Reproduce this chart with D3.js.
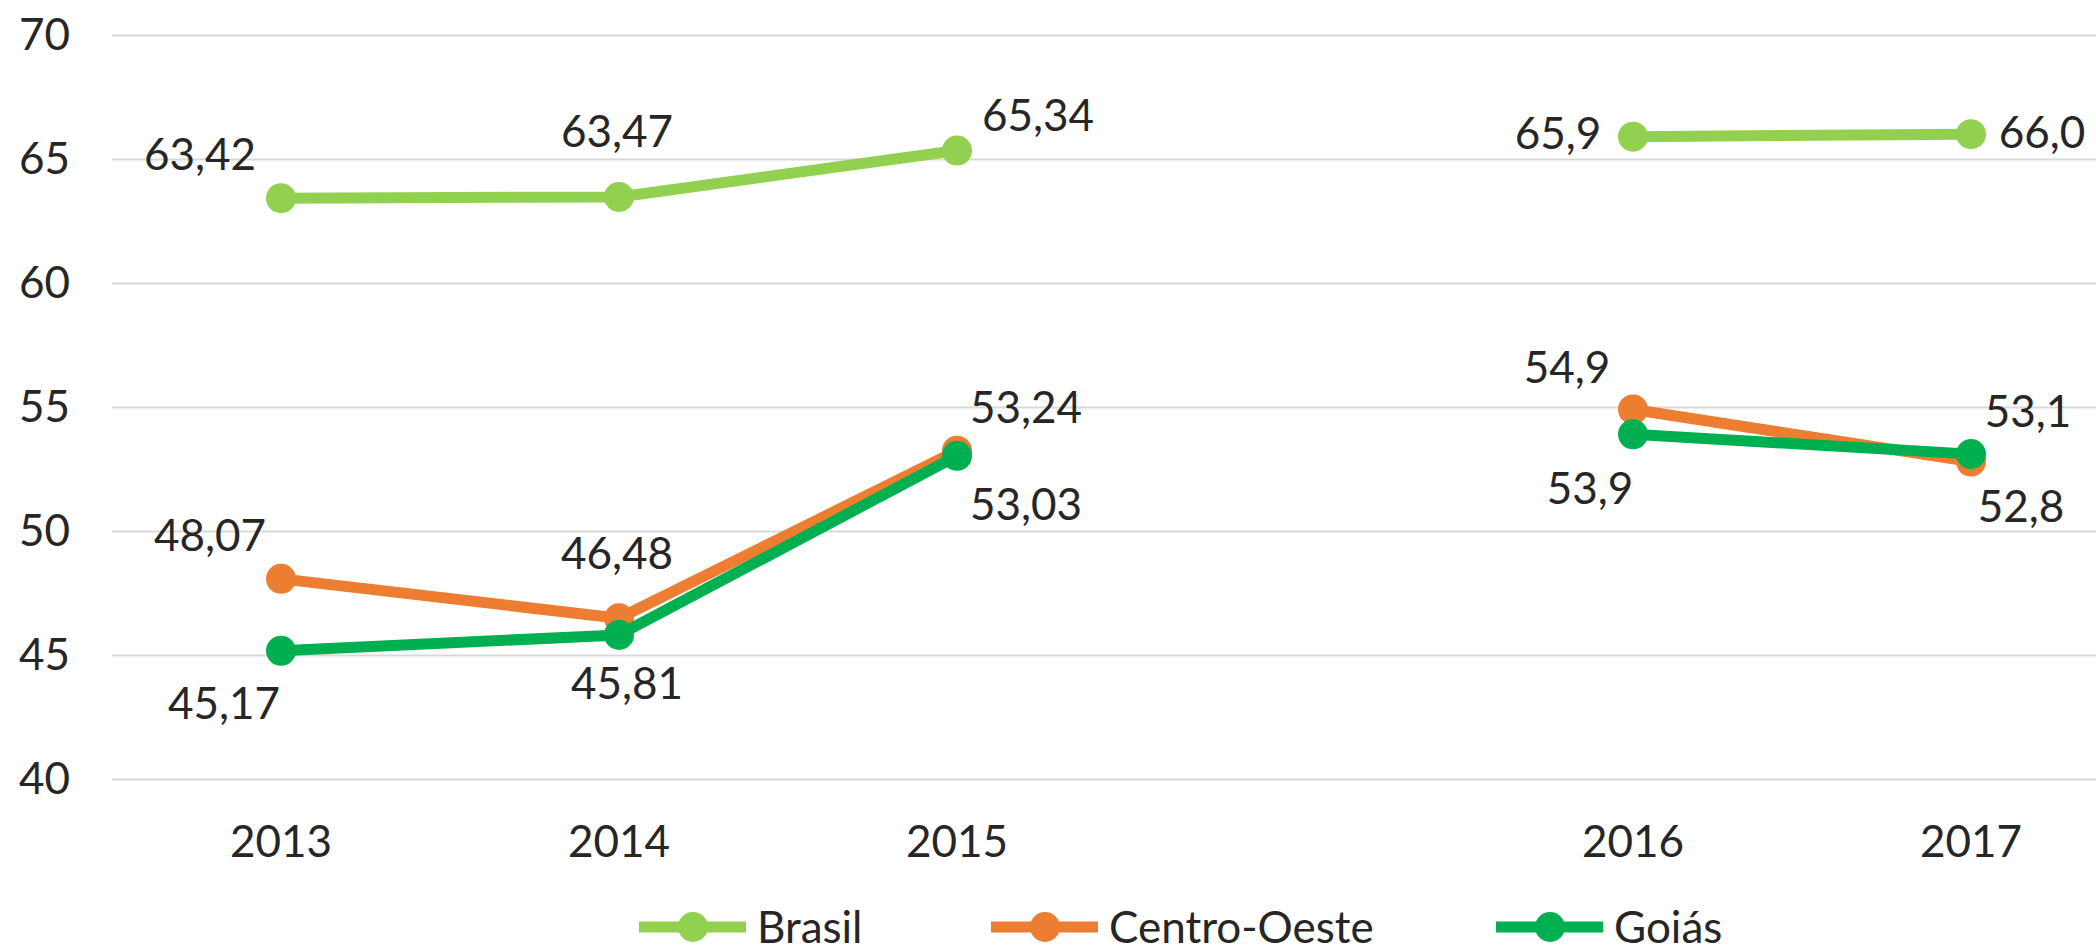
<!DOCTYPE html>
<html>
<head>
<meta charset="utf-8">
<script src="https://cdn.jsdelivr.net/npm/d3@7"></script>
<style>
  body { margin: 0; background: #fff; }
  svg { display: block; font-family: Lato, "Open Sans", sans-serif; }
</style>
</head>
<body>
<script>
// categories (the blank one is the gap between 2015 and 2016)
var years = ["2013", "2014", "2015", "", "2016", "2017"];
var decimals = [2, 2, 2, null, 1, 1];

var brasil = [63.42, 63.47, 65.34, null, 65.9, 66.0];
var centroOeste = [48.07, 46.48, 53.24, null, 54.9, 52.8];
var goias = [45.17, 45.81, 53.03, null, 53.9, 53.1];

var yTicks = [40, 45, 50, 55, 60, 65, 70];

var seriesNames = ["Brasil", "Centro-Oeste", "Goiás"];
var seriesColors = ["#92D050", "#ED7D31", "#00B050"];

// where each data label sits relative to its point (centre of text)
var labelOffsets = [
  [[-81, -44], [-2, -66], [81, -35], null, [-75, -4], [71, -2]],
  [[-71, -44], [-2, -65], [69, -43], null, [-66, -42], [50, 45]],
  [[-57, 52], [8, 48], [69, 48], null, [-43, 54], [57, -43]]
];

var W = 2096, H = 952;
var plotLeft = 112, step = 338;
var plotTop = 35, plotBottom = 779;

var svg = d3.select("body").append("svg")
  .attr("width", W)
  .attr("height", H);

var x = d3.scaleBand()
  .domain(years)
  .range([plotLeft, plotLeft + step * years.length])
  .padding(0);

var y = d3.scaleLinear()
  .domain([40, 70])
  .range([plotBottom, plotTop]);

function cx(i) { return x(years[i]) + x.bandwidth() / 2; }

// gridlines + y labels
var yAxis = svg.append("g")
  .attr("transform", "translate(" + plotLeft + ",0)")
  .call(d3.axisLeft(y)
    .tickValues(yTicks)
    .tickSize(-(step * years.length))
    .tickPadding(42)
    .tickFormat(d3.format("d")));
yAxis.select(".domain").remove();
yAxis.selectAll(".tick line")
  .attr("stroke", "#D9D9D9")
  .attr("stroke-width", 2);
yAxis.selectAll(".tick text")
  .attr("fill", "#262626")
  .style("font-size", "44px")
  .style("font-family", "Lato, 'Open Sans', sans-serif");

// x labels
var xAxis = svg.append("g")
  .attr("transform", "translate(0," + plotBottom + ")")
  .call(d3.axisBottom(x).tickSize(0).tickPadding(47));
xAxis.select(".domain").remove();
xAxis.selectAll(".tick text")
  .attr("fill", "#262626")
  .style("font-size", "44px")
  .style("font-family", "Lato, 'Open Sans', sans-serif");

var allSeries = [brasil, centroOeste, goias];

var line = d3.line()
  .defined(function (d) { return d != null; })
  .x(function (d, i) { return cx(i); })
  .y(function (d) { return y(d); });

allSeries.forEach(function (vals, s) {
  var g = svg.append("g");
  g.append("path")
    .datum(vals)
    .attr("d", line)
    .attr("fill", "none")
    .attr("stroke", seriesColors[s])
    .attr("stroke-width", 11)
    .attr("stroke-linejoin", "round");

  g.selectAll("circle")
    .data(vals.map(function (v, i) { return { v: v, i: i }; })
      .filter(function (d) { return d.v != null; }))
    .enter()
    .append("circle")
    .attr("cx", function (d) { return cx(d.i); })
    .attr("cy", function (d) { return y(d.v); })
    .attr("r", 15)
    .attr("fill", seriesColors[s]);
});

// data labels, drawn last so they sit above the lines
allSeries.forEach(function (vals, s) {
  svg.append("g").selectAll("text")
    .data(vals.map(function (v, i) { return { v: v, i: i }; })
      .filter(function (d) { return d.v != null; }))
    .enter()
    .append("text")
    .attr("x", function (d) { return cx(d.i) + labelOffsets[s][d.i][0]; })
    .attr("y", function (d) { return y(d.v) + labelOffsets[s][d.i][1]; })
    .attr("dy", "0.36em")
    .attr("text-anchor", "middle")
    .attr("fill", "#262626")
    .style("font-size", "44px")
    .text(function (d) {
      return d3.format("." + decimals[d.i] + "f")(d.v).replace(".", ",");
    });
});

// legend
var legendX = [639, 991, 1496];
var legendY = 927;
var legend = svg.append("g");
seriesNames.forEach(function (name, s) {
  var lg = legend.append("g").attr("transform", "translate(" + legendX[s] + "," + legendY + ")");
  lg.append("line")
    .attr("x1", 0).attr("x2", 107)
    .attr("stroke", seriesColors[s])
    .attr("stroke-width", 11);
  lg.append("circle")
    .attr("cx", 54)
    .attr("r", 15)
    .attr("fill", seriesColors[s]);
  lg.append("text")
    .attr("x", 118)
    .attr("dy", "0.36em")
    .attr("fill", "#262626")
    .style("font-size", "44px")
    .text(name);
});
</script>
</body>
</html>
